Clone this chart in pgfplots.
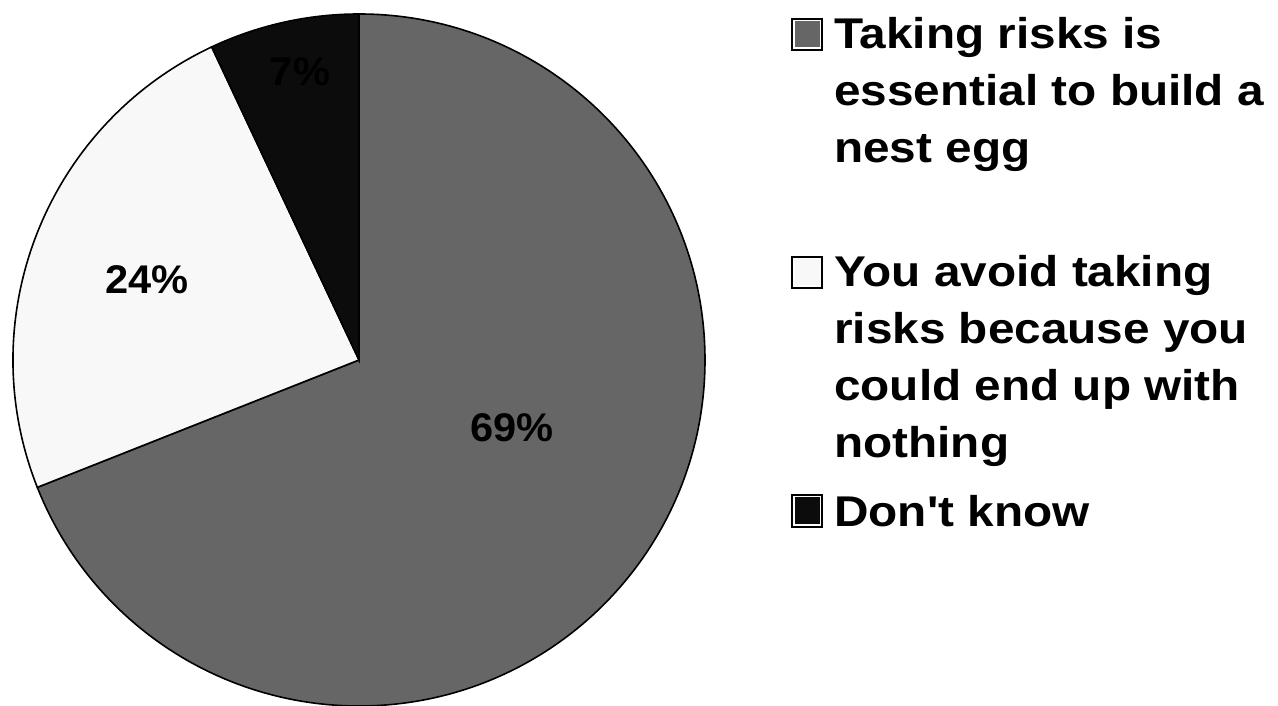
\documentclass[border=0pt]{standalone}
\usepackage{fontspec}
\setmainfont{Liberation Sans}
\usepackage{pgfplots}
\usepackage{pgfplotstable}
\pgfplotsset{compat=1.18}
\definecolor{cA}{HTML}{666666}
\definecolor{cB}{HTML}{F8F8F8}
\definecolor{cC}{HTML}{0C0C0C}
\pgfplotstableread{
idx pct
0 69
1 24
2 7
}\piedata
\pgfplotstablegetelem{0}{pct}\of\piedata \let\pA\pgfplotsretval
\pgfplotstablegetelem{1}{pct}\of\piedata \let\pB\pgfplotsretval
\pgfplotstablegetelem{2}{pct}\of\piedata \let\pC\pgfplotsretval
\pgfmathsetmacro{\aA}{90}
\pgfmathsetmacro{\aB}{\aA-3.6*\pA}
\pgfmathsetmacro{\aC}{\aB-3.6*\pB}
\pgfmathsetmacro{\aD}{\aC-3.6*\pC}
\begin{document}
\begin{tikzpicture}
\begin{axis}[x=1bp, y=1bp, xmin=0, xmax=1278, ymin=0, ymax=706,
  hide axis, clip=false]
\coordinate (LL) at (axis cs:0,0);
\coordinate (UR) at (axis cs:1278,706);
% pie
\filldraw[fill=cA, draw=black, line width=1.6bp] (axis cs:359,346) -- +(\aA:346bp) arc[start angle=\aA, end angle=\aB, radius=346bp] -- cycle;
\filldraw[fill=cB, draw=black, line width=1.6bp] (axis cs:359,346) -- +(\aB:346bp) arc[start angle=\aB, end angle=\aC, radius=346bp] -- cycle;
\filldraw[fill=cC, draw=black, line width=1.6bp] (axis cs:359,346) -- +(\aC:346bp) arc[start angle=\aC, end angle=\aD, radius=346bp] -- cycle;
\begin{scope}[every node/.style={font=\fontsize{40bp}{48bp}\selectfont\bfseries, inner sep=0pt, xscale=1.04}]
\node at (axis cs:512,278) {\pA\%};
\node at (axis cs:147,426) {\pB\%};
\node[text=black] at (axis cs:300,634) {\pC\%};
\end{scope}
% legend
\filldraw[fill=white, draw=black, line width=2bp] (axis cs:792,656) rectangle (axis cs:822,687);
\fill[cA] (axis cs:794.5,658.5) rectangle (axis cs:819.5,684.5);
\filldraw[fill=white, draw=black, line width=2bp] (axis cs:792,418) rectangle (axis cs:822,449);
\fill[cB] (axis cs:794.5,420.5) rectangle (axis cs:819.5,446.5);
\filldraw[fill=white, draw=black, line width=2bp] (axis cs:792,179) rectangle (axis cs:822,211);
\fill[cC] (axis cs:794.5,181.5) rectangle (axis cs:819.5,208.5);
\begin{scope}[every node/.style={font=\fontsize{43bp}{52bp}\selectfont\bfseries, inner sep=0pt, xscale=1.11, anchor=base west}]
\node at (axis cs:834,657) {Taking risks is};
\node at (axis cs:834,600) {essential to build a};
\node at (axis cs:834,543) {nest egg};
\node at (axis cs:834,419) {You avoid taking};
\node at (axis cs:834,362) {risks because you};
\node at (axis cs:834,305) {could end up with};
\node at (axis cs:834,248) {nothing};
\node at (axis cs:834,179) {Don\textquotesingle t know};
\end{scope}
\end{axis}
\pgfresetboundingbox
\path[use as bounding box] (LL) rectangle (UR);
\end{tikzpicture}
\end{document}
